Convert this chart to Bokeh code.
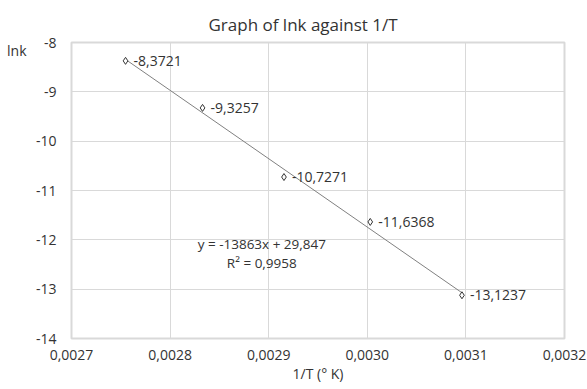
from bokeh.plotting import figure
from bokeh.models import (Range1d, FixedTicker, CustomJSTickFormatter, ColumnDataSource,
                          LabelSet, Label, LinearAxis)
from bokeh.embed import file_html
from bokeh.resources import INLINE
from bokeh.core.properties import value

# Data
inv_T = [0.0027548, 0.0028329, 0.0029155, 0.0030030, 0.0030960]
ln_k = [-8.3721, -9.3257, -10.7271, -11.6368, -13.1237]
point_labels = ["-8,3721", "-9,3257", "-10,7271", "-11,6368", "-13,1237"]
slope = -13863.0
intercept = 29.847
eq_text = "y = -13863x + 29,847"
r2_text = "R² = 0,9958"
x_ticks = [0.0027, 0.0028, 0.0029, 0.0030, 0.0031, 0.0032]
y_ticks = [-14, -13, -12, -11, -10, -9, -8]
y_title = "lnk"
y_title_pos = [-8.16]

FONT = "Open Sans"
TXT = "#333333"
GRID = "#d9d9d9"

p = figure(width=587, height=389, output_backend="svg", toolbar_location=None,
           x_range=Range1d(x_ticks[0], x_ticks[-1]), y_range=Range1d(y_ticks[0], y_ticks[-1]),
           min_border_left=71, min_border_right=23, min_border_top=42, min_border_bottom=51)
p.outline_line_color = GRID
p.outline_line_width = 2
p.background_fill_color = "white"

p.title.text = "Graph of lnk against 1/T"
p.title.align = "left"
p.title.offset = 137
p.title.standoff = 14
p.title.text_font = FONT
p.title.text_font_size = "17px"
p.title.text_font_style = "normal"
p.title.text_color = TXT

p.xaxis.ticker = FixedTicker(ticks=x_ticks)
p.yaxis.ticker = FixedTicker(ticks=y_ticks)
p.xaxis.formatter = CustomJSTickFormatter(code="return tick.toFixed(4).replace('.', ',');")
p.yaxis.formatter = CustomJSTickFormatter(code="return tick.toFixed(0);")

# extra left axis carrying the horizontal "lnk" title at the top-left
lnk_axis = LinearAxis(ticker=FixedTicker(ticks=y_title_pos),
                      formatter=CustomJSTickFormatter(code="return '%s';" % y_title))
p.add_layout(lnk_axis, "left")

for ax in (p.xaxis + p.yaxis):
    ax.axis_line_color = None
    ax.major_tick_line_color = None
    ax.minor_tick_line_color = None
    ax.major_tick_out = 0
    ax.major_tick_in = 0
    ax.major_label_text_font = FONT
    ax.major_label_text_font_size = "14px"
    ax.major_label_text_color = TXT
p.xaxis.major_label_standoff = 11
p.yaxis[0].major_label_standoff = 15
lnk_axis.major_label_standoff = 6
p.xaxis.axis_label = "1/T (° K)"
p.xaxis.axis_label_text_font = FONT
p.xaxis.axis_label_text_font_size = "14px"
p.xaxis.axis_label_text_font_style = "normal"
p.xaxis.axis_label_text_color = TXT
p.xaxis.axis_label_standoff = 1

p.xgrid.grid_line_color = GRID
p.ygrid.grid_line_color = GRID
p.xgrid.grid_line_width = 1
p.ygrid.grid_line_width = 1

# trendline
tx = [inv_T[0], inv_T[-1]]
ty = [slope * x + intercept for x in tx]
p.line(tx, ty, line_color="#808080", line_width=1)

src = ColumnDataSource(dict(x=inv_T, y=ln_k, lab=point_labels))
p.scatter("x", "y", source=src, marker="diamond", size=7, fill_color="white",
          line_color=TXT, line_width=1)
p.add_layout(LabelSet(x="x", y="y", text="lab", source=src, x_offset=8, y_offset=0,
                      text_font=value(FONT), text_font_size=value("14px"), text_color=TXT,
                      text_align="left", text_baseline="middle"))

# equation labels
p.add_layout(Label(x=0.002893, y=-12.08, text=eq_text, text_font=FONT,
                   text_font_size="13.5px", text_color=TXT, text_align="center", text_baseline="middle"))
p.add_layout(Label(x=0.002893, y=-12.46, text=r2_text, text_font=FONT,
                   text_font_size="13.5px", text_color=TXT, text_align="center", text_baseline="middle"))

open("out.html", "w").write(file_html(p, INLINE))
